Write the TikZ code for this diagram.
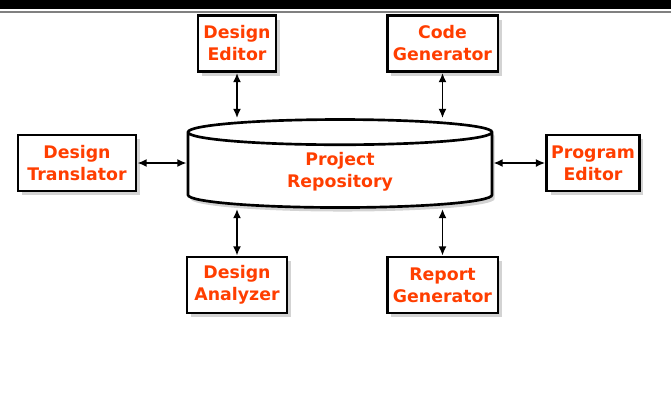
\documentclass[tikz,border=0pt]{standalone}
\usepackage{fontspec}
\setmainfont{DejaVu Sans}
\usepackage{tikz}
\usetikzlibrary{arrows,arrows.meta,shapes,shadows,positioning}
\definecolor{toolred}{RGB}{255,62,0}
\tikzstyle{tool} = [draw, rectangle, fill=white, line width=2pt,
    minimum height=42pt, align=center, text=toolred,
    font=\fontsize{13}{16.5}\selectfont\bfseries,
    drop shadow={opacity=0.35, shadow xshift=3pt, shadow yshift=-3pt}]
\tikzstyle{repo} = [draw, cylinder, shape border rotate=90, aspect=0.22,
    fill=white, line width=2pt, minimum width=228pt, minimum height=66pt,
    align=center, text=toolred, font=\fontsize{13}{16.5}\selectfont\bfseries,
    drop shadow={opacity=0.35, shadow xshift=2pt, shadow yshift=-3pt}]
\tikzstyle{link} = [{Latex[length=7pt,width=6pt]}-{Latex[length=7pt,width=6pt]},
    line width=1.4pt]

\begin{document}
\begin{tikzpicture}[x=0.75pt, y=-0.75pt]
  \useasboundingbox (0,0) rectangle (671,419);
  \fill [black] (0,0) rectangle (671,9);
  \draw [gray, line width=1pt] (0,12) -- (671,12);
  % repository in the middle
  \node [repo] (repo) at (340,172) {Project\\Repository};
  % tools round it
  \node [tool, minimum width=58.5pt] (deditor) at (237,43.5) {Design\\Editor};
  \node [tool, minimum width=83pt] (codegen) at (442.5,43.5) {Code\\Generator};
  \node [tool, minimum width=88.5pt] (dtrans) at (77,163) {Design\\Translator};
  \node [tool, minimum width=69pt] (peditor) at (593,163) {Program\\Editor};
  \node [tool, minimum width=75pt] (danal) at (237,285) {Design\\Analyzer};
  \node [tool, minimum width=83pt] (repgen) at (442.5,285) {Report\\Generator};
  \draw [link] (deditor.south) -- (deditor.south |- repo.north);
  \draw [link] (codegen.south) -- (codegen.south |- repo.north);
  \draw [link] (danal.north) -- (danal.north |- repo.south);
  \draw [link] (repgen.north) -- (repgen.north |- repo.south);
  \draw [link] (dtrans.east) -- (dtrans.east -| repo.west);
  \draw [link] (peditor.west) -- (peditor.west -| repo.east);
\end{tikzpicture}
\end{document}
